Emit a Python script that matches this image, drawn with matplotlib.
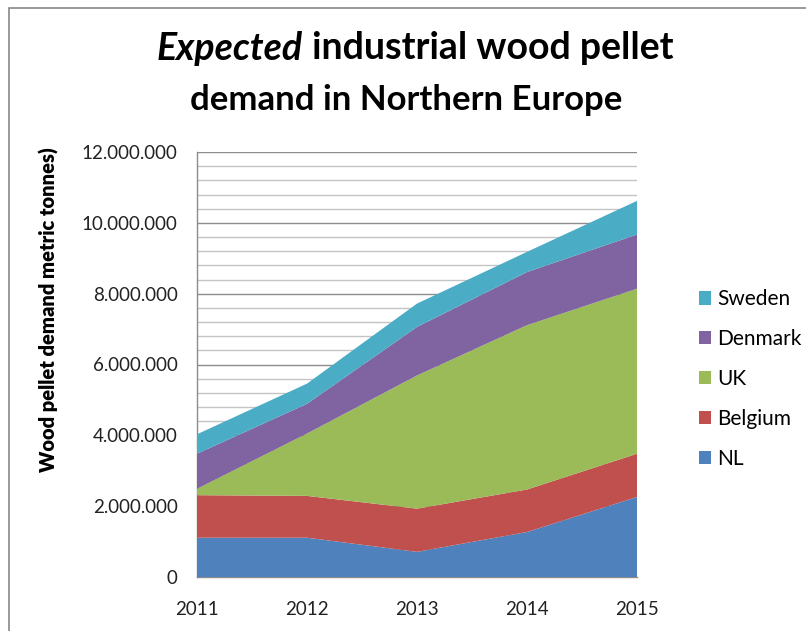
import numpy as np
import matplotlib
matplotlib.use("Agg")
import matplotlib.pyplot as plt
from matplotlib.patches import Rectangle
from matplotlib.ticker import MultipleLocator, FuncFormatter

plt.rcParams['font.family'] = ['Lato', 'DejaVu Sans']

# data (metric tonnes)
years = [2011, 2012, 2013, 2014, 2015]
nl = [1110000, 1110000, 710000, 1270000, 2260000]
belgium = [1200000, 1180000, 1220000, 1200000, 1220000]
uk = [180000, 1760000, 3760000, 4640000, 4660000]
denmark = [990000, 840000, 1370000, 1500000, 1530000]
sweden = [550000, 570000, 660000, 570000, 950000]

series_names = ['NL', 'Belgium', 'UK', 'Denmark', 'Sweden']
colors = ['#4F81BD', '#C0504D', '#9BBB59', '#8064A2', '#4BACC6']

W, H = 806, 631
fig = plt.figure(figsize=(W / 100, H / 100), dpi=100)

# outer chart border (cropped on right/bottom)
fig.patches.append(Rectangle((9 / W, -0.1), 1.2, 1 - 8 / H + 0.1, transform=fig.transFigure,
                             fill=False, edgecolor='#888888', linewidth=1.2))

ax = fig.add_axes([197 / W, 1 - 577 / H, 440 / W, 425 / H])
ax.stackplot(years, nl, belgium, uk, denmark, sweden, colors=colors, labels=series_names,
             linewidth=0, zorder=3)

ax.set_xlim(2011, 2015)
ax.set_ylim(0, 12000000)
ax.yaxis.set_major_locator(MultipleLocator(2000000))
ax.yaxis.set_minor_locator(MultipleLocator(400000))
ax.yaxis.set_major_formatter(FuncFormatter(lambda v, p: f"{int(v):,}".replace(',', '.')))
ax.set_xticks(years)
ax.grid(True, which='major', axis='y', color='#8c8c8c', linewidth=1.0, zorder=1)
ax.grid(True, which='minor', axis='y', color='#c4c4c4', linewidth=1.0, zorder=1)
ax.tick_params(axis='both', which='both', length=0, labelsize=13.5, colors='#222222')
ax.tick_params(axis='y', pad=14)
ax.tick_params(axis='x', pad=17)
for s in ['top', 'right']:
    ax.spines[s].set_visible(False)
for s in ['left', 'bottom']:
    ax.spines[s].set_color('#8c8c8c')
    ax.spines[s].set_linewidth(1.0)

ax.set_ylabel('Wood pellet demand metric tonnes)', fontsize=14.5, fontweight='heavy')
ax.yaxis.set_label_coords(-138 / 440, (577 - 310) / 425)

# title: first line has an italic word
fig.canvas.draw()
r = fig.canvas.get_renderer()
t1 = fig.text(0, 1 - 48 / H, 'Expected', fontsize=27, fontweight='bold', style='italic', va='center')
t2 = fig.text(0, 1 - 48 / H, ' industrial wood pellet', fontsize=27, fontweight='bold', va='center')
w1 = t1.get_window_extent(r).width
w2 = t2.get_window_extent(r).width
x0 = 415 - (w1 + w2) / 2
t1.set_x(x0 / W)
t2.set_x((x0 + w1) / W)
fig.text(406 / W, 1 - 100 / H, 'demand in Northern Europe', fontsize=25, fontweight='bold',
         ha='center', va='center')

# legend, top entry = last series
handles, labels = ax.get_legend_handles_labels()
leg = fig.legend(handles[::-1], labels[::-1], loc='center left', bbox_to_anchor=(680 / W, 1 - 379 / H),
                 frameon=False, fontsize=15, handlelength=0.6, handleheight=0.6,
                 handletextpad=0.3, labelspacing=0.95)

fig.savefig('out.png', dpi=100)
